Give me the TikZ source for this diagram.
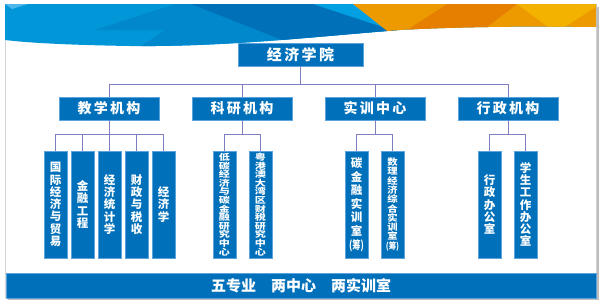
\documentclass[tikz,border=0pt]{standalone}
\usepackage{fontspec}
\usepackage{graphicx}
\setmainfont{Noto Sans CJK SC}
\newfontfamily\hdfont{Noto Sans CJK SC}[LetterSpace=16]
\newfontfamily\widefont{Noto Sans CJK SC}[FakeStretch=1.3]
\newfontfamily\midfont{Noto Sans CJK SC}[FakeStretch=1.15]
\usetikzlibrary{positioning}
\definecolor{DeepBlue}{HTML}{0070BA}
\definecolor{EdgeBlue}{HTML}{5BA3DC}
\definecolor{LinkPurple}{HTML}{7E7EC0}
\definecolor{SkyBase}{HTML}{0096D8}
\definecolor{SkyLight}{HTML}{4DB6EA}
\definecolor{SkyMid}{HTML}{0087CC}
\definecolor{SkyDark}{HTML}{0071B8}
\definecolor{SkyBright}{HTML}{00A0E3}
\definecolor{SunBase}{HTML}{EC9A00}
\definecolor{SunDark}{HTML}{E67E00}
\definecolor{SunGold}{HTML}{F3B100}
\definecolor{CardLine}{HTML}{D4D4D4}
\definecolor{Shadow}{HTML}{BDBDBD}
\newcommand\colA{\bfseries\fontsize{11.5}{12.3}\selectfont\lineskiplimit=-10pt}
\newcommand\colB{\widefont\bfseries\fontsize{8.5}{8.6}\selectfont\lineskiplimit=-10pt}
\newcommand\colC{\bfseries\fontsize{11.5}{13.6}\selectfont\lineskiplimit=-10pt}
\newcommand\colD{\midfont\bfseries\fontsize{9}{9.3}\selectfont\lineskiplimit=-10pt}
\newcommand\chou{\scalebox{.72}[1]{(筹)}}
\begin{document}
\begin{tikzpicture}[x=1pt,y=-1pt,
  orgbox/.style={fill=DeepBlue,draw=EdgeBlue,line width=.6pt,text=white,inner sep=0pt},
  headbox/.style={orgbox,minimum height=23,font=\hdfont\bfseries\fontsize{14}{14}\selectfont},
  colbox/.style={orgbox,minimum width=23,minimum height=107,align=center},
  link/.style={draw=LinkPurple,line width=.8pt}]
\useasboundingbox(0,0)rectangle(600,301);
\fill[white](0,0)rectangle(600,301);\fill[Shadow](8,7)rectangle(599,300);\draw[CardLine,fill=white](5,4)rectangle(596,297);
\begin{scope}
\clip(5,4)--(596,4)--(596,27)..controls(520,26)and(450,27)..(400,30)..controls(320,36)and(230,47)..(130,46)..controls(70,45)and(30,43)..(5,40)--cycle;
\fill[SkyBase](0,0)rectangle(600,60);\fill[SkyLight](5,4)--(28,4)--(12,9)--cycle;
\fill[SkyMid](95,30)--(175,4)--(353,4)--(400,34)--(400,60)--(120,60)--(165,30)--cycle;
\fill[SkyDark](191,4)--(313,4)--(400,31)--(400,60)--(333,60)--cycle;\fill[SkyBright](313,4)--(353,4)--(395,31)--cycle;
\fill[SunBase](353,4)--(600,4)--(600,60)--(424,60)--cycle;\fill[SunDark](447,4)--(517,4)--(478,34)--(401,34)--cycle;
\fill[SunGold](517,4)--(600,4)--(596,7)--(560,30)--(552,30)--cycle;
\end{scope}
\node[headbox,minimum width=125,font=\hdfont\bfseries\fontsize{15}{15}\selectfont](root)at(300.5,54.5){经济学院};
\foreach \n/\x/\t in {teach/109/教学机构,res/242/科研机构,train/375/实训中心,admin/508/行政机构}{\node[headbox,minimum width=100](\n)at(\x,108.5){\t};}
\coordinate(hub)at(300.5,84);\draw[link](root)--(hub);
\foreach \n in {teach,res,train,admin}{\draw[link](\n.north)|-(hub);\path(\n.south)++(0,14)coordinate(\n-hub);\draw[link](\n)--(\n-hub);}
\foreach \n/\p/\x/\f/\t in {t1/teach/55.5/\colA/{国\\际\\经\\济\\与\\贸\\易},t2/teach/82.5/\colA/{金\\融\\工\\程},t3/teach/109.5/\colA/{经\\济\\统\\计\\学},t4/teach/136.5/\colA/{财\\政\\与\\税\\收},t5/teach/163.5/\colA/{经\\济\\学},
  r1/res/224.5/\colB/{低\\碳\\经\\济\\与\\碳\\金\\融\\研\\究\\中\\心},r2/res/260.5/\colB/{粤\\港\\澳\\大\\湾\\区\\财\\税\\研\\究\\中\\心},
  s1/train/356.5/\colC/{碳\\金\\融\\实\\训\\室\\\chou},s2/train/392.5/\colD/{数\\理\\经\\济\\综\\合\\实\\训\\室\\\chou},
  a1/admin/489.5/\colA/{行\\政\\办\\公\\室},a2/admin/525.5/\colA/{学\\生\\工\\作\\办\\公\\室}}{\node[colbox,font=\f](\n)at(\x,204.5){\t};\draw[link](\n.north)|-(\p-hub);}
\node[orgbox,minimum width=590,minimum height=25,font=\bfseries\fontsize{15}{15}\selectfont](motto)at(301,285.5){五专业\hspace{1em}两中心\hspace{1em}两实训室};
\end{tikzpicture}
\end{document}
